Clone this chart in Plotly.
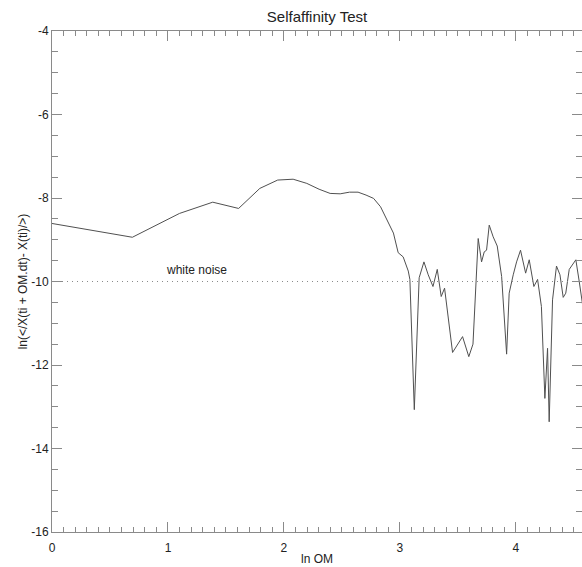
import plotly.graph_objects as go

# ln OM values and selfaffinity measure
ln_om = [0, 0.693, 1.099, 1.386, 1.609, 1.792, 1.946, 2.079, 2.197, 2.303,
         2.398, 2.485, 2.565, 2.639, 2.708, 2.773, 2.833, 2.890, 2.944, 2.985,
         3.028, 3.072, 3.086, 3.124, 3.166, 3.207, 3.244, 3.285, 3.322, 3.356,
         3.385, 3.454, 3.540, 3.594, 3.630, 3.675, 3.704, 3.727, 3.747, 3.770,
         3.804, 3.839, 3.877, 3.920, 3.942, 3.977, 4.006, 4.040, 4.084, 4.115,
         4.155, 4.187, 4.220, 4.250, 4.273, 4.287, 4.316, 4.350, 4.380, 4.408,
         4.430, 4.460, 4.517, 4.546, 4.580]
ln_diff = [-8.61, -8.94, -8.37, -8.10, -8.25, -7.77, -7.57, -7.55, -7.65, -7.79,
           -7.89, -7.90, -7.86, -7.86, -7.93, -8.01, -8.21, -8.52, -8.84, -9.31,
           -9.41, -9.75, -9.95, -13.07, -9.91, -9.53, -9.84, -10.12, -9.71, -10.36,
           -10.16, -11.70, -11.32, -11.80, -11.50, -8.97, -9.53, -9.29, -9.25, -8.65,
           -8.93, -9.15, -9.88, -11.74, -10.28, -9.84, -9.53, -9.25, -9.80, -9.48,
           -10.12, -9.95, -10.60, -12.80, -11.60, -13.36, -10.44, -9.63, -9.84, -10.38,
           -10.28, -9.71, -9.48, -10.00, -10.65]

white_noise_level = -10
x_ticks = [0, 1, 2, 3, 4]
y_ticks = [-16, -14, -12, -10, -8, -6, -4]
x_range = [0, 4.57]
y_range = [-16, -4]

axis_col = "#8a8a8a"
font = "Liberation Sans, Arial, sans-serif"

fig = go.Figure()
fig.add_trace(go.Scatter(x=ln_om, y=ln_diff, mode="lines",
                         line=dict(color="#505050", width=1), showlegend=False))
fig.add_trace(go.Scatter(x=[x_range[0], x_range[1] + 0.1],
                         y=[white_noise_level, white_noise_level], mode="lines",
                         line=dict(color="#8a8a8a", width=1, dash="1px,4px"),
                         showlegend=False))

fig.add_annotation(x=1.247, y=-9.72, text="white noise", showarrow=False,
                   font=dict(family=font, size=12, color="#222222"))

fig.update_layout(
    width=582, height=567,
    margin=dict(l=52, r=0, t=31, b=35),
    paper_bgcolor="white", plot_bgcolor="white",
    font=dict(family=font, size=12, color="#222222"),
    title=dict(text="Selfaffinity Test", x=0.5, xref="paper", xanchor="center",
               y=1 - 17 / 567, yref="container", yanchor="middle",
               font=dict(family=font, size=15, color="#222222")),
    xaxis=dict(range=x_range, tickvals=x_ticks, ticktext=[str(v) for v in x_ticks],
               ticks="inside", ticklen=10, tickcolor=axis_col, tickwidth=1,
               ticklabelstandoff=5,
               showline=True, linecolor=axis_col, linewidth=1, mirror="ticks",
               showgrid=False, zeroline=False,
               minor=dict(dtick=0.1, tick0=0, ticks="inside", ticklen=5,
                          tickcolor=axis_col, showgrid=False),
               title=dict(text="ln OM", standoff=0, font=dict(size=12))),
    yaxis=dict(range=y_range, tickvals=y_ticks, ticktext=[str(v) for v in y_ticks],
               ticks="inside", ticklen=10, tickcolor=axis_col, tickwidth=1,
               showline=True, linecolor=axis_col, linewidth=1, mirror="ticks",
               showgrid=False, zeroline=False,
               minor=dict(dtick=0.5, tick0=0, ticks="inside", ticklen=6,
                          tickcolor=axis_col, showgrid=False),
               title=dict(text="ln(&lt;/X(ti + OM.dt)- X(ti)/&gt;)", standoff=1,
                          font=dict(size=12))),
)

fig.write_html("out.html")
